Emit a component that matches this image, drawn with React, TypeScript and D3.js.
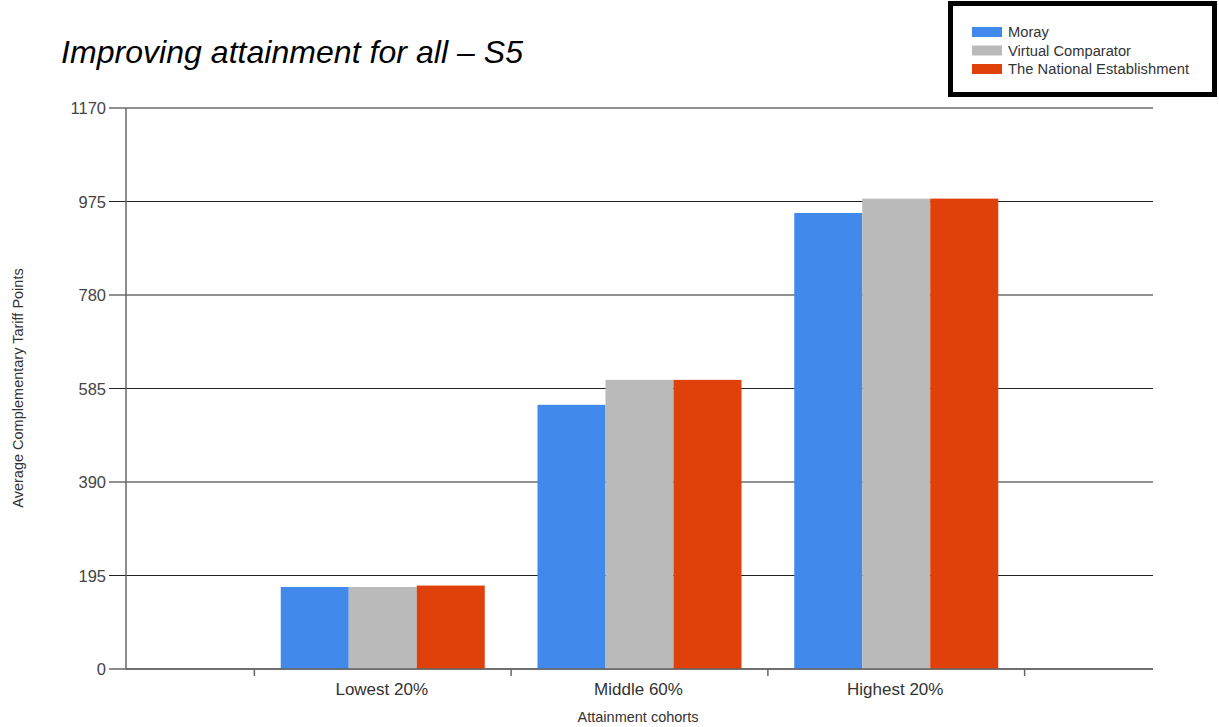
import React from "react";
import * as d3 from "d3";

const categories = ["Lowest 20%", "Middle 60%", "Highest 20%"];
const seriesNames = ["Moray", "Virtual Comparator", "The National Establishment"];
const moray = [171, 551, 951];
const virtualComparator = [171, 603, 981];
const nationalEstablishment = [174, 603, 981];
const yTicks = [0, 195, 390, 585, 780, 975, 1170];
const colors = ["#418AEB", "#BABABA", "#E0400A"];

export default function App() {
  const W = 1219, H = 727;
  const left = 126, right = 1153, top = 108, bottom = 669;
  const font = "'Liberation Sans', Arial, sans-serif";
  const y = d3.scaleLinear().domain([0, 1170]).range([bottom, top]);
  const x = d3.scaleLinear().domain([0, 4]).range([left, right]);
  const groupW = 204;
  const barScale = d3.scaleBand().domain(seriesNames).range([-groupW / 2, groupW / 2]).padding(0);
  const data = [moray, virtualComparator, nationalEstablishment];
  const xTickPos = [0.5, 1.5, 2.5, 3.5];
  return (
    <svg width={W} height={H} style={{ position: "absolute", left: 0, top: 0 }}>
      <rect x={0} y={0} width={W} height={H} fill="#fff" />
      <text x={61} y={63} fontFamily={font} fontStyle="italic" fontSize={32} textLength={462} fill="#000">
        Improving attainment for all – S5
      </text>
      {/* legend */}
      <rect x={950.5} y={3.5} width={264} height={91} fill="#fff" stroke="#000" strokeWidth={5} />
      {seriesNames.map((s, i) => (
        <g key={s}>
          <rect x={972} y={27 + i * 18.5} width={30} height={10} fill={colors[i]} />
          <text x={1008} y={37 + i * 18.5} fontFamily={font} fontSize={14.7} textLength={i === 2 ? 181 : undefined} fill="#333">{s}</text>
        </g>
      ))}
      {/* grid + y ticks */}
      {yTicks.map((t) => (
        <g key={t}>
          <line x1={109} x2={right} y1={y(t)} y2={y(t)} stroke={t === 0 ? "#666" : "#222"} strokeWidth={t === 0 ? 1.5 : 1} />
          <text x={106} y={y(t) + 6} textAnchor="end" fontFamily={font} fontSize={16.5} fill="#444">{t}</text>
        </g>
      ))}
      {/* bars */}
      {categories.map((c, ci) => (
        <g key={c}>
          {seriesNames.map((s, si) => (
            <rect
              key={s}
              x={x(ci + 1) + (barScale(s) as number)}
              y={y(data[si][ci])}
              width={barScale.bandwidth()}
              height={bottom - y(data[si][ci])}
              fill={colors[si]}
            />
          ))}
          <text x={x(ci + 1) - 1} y={695} textAnchor="middle" fontFamily={font} fontSize={17} fill="#333">{c}</text>
        </g>
      ))}
      {/* axes */}
      <line x1={left} x2={left} y1={top} y2={bottom} stroke="#666" strokeWidth={1.5} />
      <line x1={left} x2={right} y1={bottom} y2={bottom} stroke="#666" strokeWidth={1.5} />
      {xTickPos.map((p) => (
        <line key={p} x1={x(p)} x2={x(p)} y1={bottom} y2={bottom + 7} stroke="#666" strokeWidth={1.5} />
      ))}
      <text x={638} y={722} textAnchor="middle" fontFamily={font} fontSize={14.5} fill="#333">Attainment cohorts</text>
      <text transform="translate(23,388) rotate(-90)" textAnchor="middle" fontFamily={font} fontSize={14.5} fill="#333">
        Average Complementary Tariff Points
      </text>
    </svg>
  );
}
